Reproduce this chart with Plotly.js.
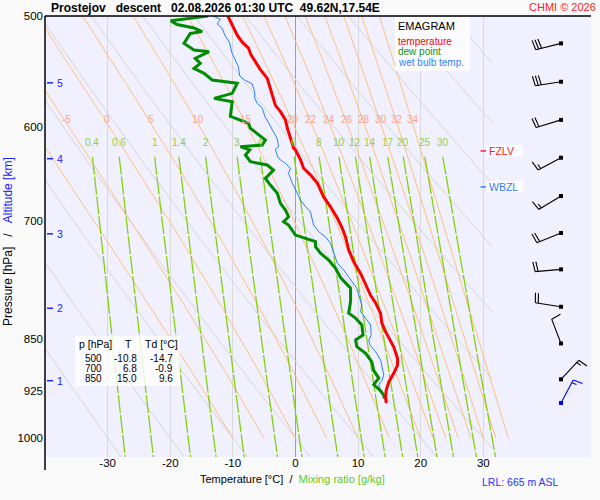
<!DOCTYPE html>
<html><head><meta charset="utf-8">
<script src="https://cdn.plot.ly/plotly-3.0.1.min.js"></script>
<style>html,body{margin:0;padding:0;background:#fafafa;}#chart{width:600px;height:500px;}</style>
</head><body><div id="chart"></div>
<script>
// ---------------- data ----------------
const tempPres = [500,507,516,522,527,533,539,546,554,562,569,579,585,593,601,610,621,623,633,642,649,658,673,684,697,709,719,734,750,763,771,780,791,801,815,828,840,851,861,877,887,899,912,924,934,944];
const tempC    = [-10.8,-10.1,-9.3,-8.5,-7.5,-7.1,-6.4,-5.6,-4.5,-4.1,-3.7,-3.2,-2.4,-1.6,-1.3,-0.9,-0.3,0.0,0.8,1.3,2.4,3.5,4.5,5.6,6.7,7.5,8.0,8.5,9.4,10.4,10.9,11.4,12.0,12.8,13.6,13.8,14.4,15.1,15.7,16.3,16.3,15.7,14.9,14.5,14.4,14.5];

const dewPres = [500,504,507,510,513,514.5,523,528.7,530.2,536,540.4,544.9,549.4,555.4,558.4,567.7,572.4,575.6,589.6,593.1,596.3,601.2,612.9,618,619.7,623,628.2,635.2,638.6,643.9,652.8,660,669,680.1,687.6,695.2,700.9,704.8,716.5,720.3,724.3,730.2,738.2,746.4,756.7,768.2,781.8,799.2,814.5,821.2,830.4,844.4,851.3,860.7,870,882.2,895.1,906.1,915.9,925.2,932,937];
const dewC    = [-14.0,-19.9,-18.9,-16.2,-14.9,-16.8,-17.8,-16.2,-13.8,-16.0,-15.2,-16.2,-14.6,-13.3,-9.3,-10.1,-13.0,-10.1,-10.4,-8.8,-7.5,-7.2,-4.8,-5.3,-8.8,-7.3,-8.0,-7.2,-4.5,-3.5,-4.8,-4.0,-2.9,-2.4,-1.6,-1.1,-1.9,-1.1,0.0,1.6,3.2,3.2,4.0,5.3,6.4,7.2,8.8,8.8,8.5,9.6,10.6,10.8,9.6,9.8,11.2,12.2,12.5,13.3,12.5,13.6,14.1,14.2];

const wetPres = [500,502.7,506.6,510.2,515.8,522.7,530.4,537.5,543.7,551.8,555.4,559.1,566.5,572.2,577.3,581.5,589.3,597,603,611.9,619.7,622.1,629.3,633.4,636.9,642,647.4,658,669,676.4,683.9,689.5,699,704.8,712.5,718.6,726.3,738.2,750.4,758.8,767.2,775.5,781.8,790.5,803.6,812.4,821.2,830.4,844.4,851.3,858.3,867.7,879.8,889.2,901.3,909.6,915.9,924.4,932,940];
const wetC    = [-13.2,-12.0,-12.5,-11.7,-11.3,-10.5,-10.2,-9.6,-9.1,-8.9,-8.1,-6.9,-6.5,-6.5,-6.1,-5.3,-4.9,-4.2,-3.7,-2.9,-2.7,-3.2,-2.9,-2.4,-1.6,-0.8,-1.1,-0.5,0.3,0.8,1.6,2.4,2.7,2.9,3.7,4.8,5.6,6.1,6.7,7.7,8.5,9.3,9.8,10.1,10.6,10.4,11.2,12.0,12.1,11.7,11.9,12.8,13.6,13.8,14.1,13.8,13.3,13.6,14.1,14.3];

// winds (direction from, degrees; speed in barb units)
const windPres = [523,557,593,631,672,714,758,806,856,908];
const windDir  = [256,261,253,242,239,248,265,279,339,43];
const windSpd  = [30,30,20,15,15,20,20,20,10,15];
const sfcPres = [944];
const sfcDir  = [28];
const sfcSpd  = [15];

// reference line families
const dryThetaC = [-30,-20,-10,0,10,20,30,40,50,60,70,80,90];
const wetThetaC = [-10,-5,0,5,10,15,20,22,24,26,28,30,32,34];
const wetLabels = [-5,0,5,10,15,20,22,24,26,28,30,32,34];
const mixRatios = [0.4,0.6,1,1.4,2,3,4,6,8,10,12,14,17,20,25,30];
const mixLabels = ['0.4','0.6','1','1.4','2','3','4','6','8','10','12','14','17','20','25','30'];

// axes
const pTicks = [500,600,700,850,925,1000];
const tTicks = [-30,-20,-10,0,10,20,30];
const isobars = [600,700,850,925,1000];
const altKm  = [1,2,3,4,5];
const altPres = [910,808,715,632,558];

// table
const tableP  = ['500','700','850'];
const tableT  = ['-10.8','6.8','15.0'];
const tableTd = ['-14.7','-0.9','9.6'];

const fzlvPres = 624;
const wbzlPres = 662;

// ---------------- layout geometry ----------------
const FONT = '"Liberation Sans", Arial, Helvetica, sans-serif';
const PX_L = 45, PX_T = 16, PLOT_W = 546, PLOT_H = 441;
const X_RANGE = [-40, 47.2];
const P_TOP = 500, P_BOT = 1031.5;
const pxPerC = PLOT_W / (X_RANGE[1] - X_RANGE[0]);
const pxPerLn = PLOT_H / Math.log(P_BOT / P_TOP);
const px2T = px => X_RANGE[0] + (px - PX_L) / pxPerC;
const paperX = px => (px - PX_L) / PLOT_W;
const paperY = py => (PX_T + PLOT_H - py) / PLOT_H;
const lg = Math.log10;
const shiftP = (p, dyPx) => p * Math.exp(dyPx / pxPerLn);

// ---------------- thermodynamics ----------------
const Rd = 287.04, cp = 1005.7, Lv = 2.501e6, EPS = 0.622, KAPPA = Rd / cp;
const esat = Tc => 6.112 * Math.exp(17.67 * Tc / (Tc + 243.5));
const dewFromE = e => { const l = Math.log(e / 6.112); return 243.5 * l / (17.67 - l); };

const traces = [];
const bg = (xs, ys, line, extra) => traces.push(Object.assign({x: xs, y: ys, mode: 'lines', line: line, hoverinfo: 'skip', showlegend: false}, extra || {}));

// dry adiabats
(function () {
  const xs = [], ys = [];
  const TCLIP = 31.5;
  dryThetaC.forEach(th => {
    const K = th + 273.15;
    const pClip = 1000 * Math.pow((TCLIP + 273.15) / K, 1 / KAPPA);
    const pEnd = Math.min(P_BOT, pClip);
    if (pEnd <= P_TOP) return;
    for (let p = P_TOP; p < pEnd; p += 5) { xs.push(K * Math.pow(p / 1000, KAPPA) - 273.15); ys.push(p); }
    xs.push(K * Math.pow(pEnd / 1000, KAPPA) - 273.15); ys.push(pEnd);
    xs.push(null); ys.push(null);
  });
  bg(xs, ys, {color: '#d6d6d6', width: 1});
})();

// pseudo-adiabats
const wetLabelPos = {};
(function () {
  const xs = [], ys = [];
  const f = (p, T) => {
    const Tc = T - 273.15, es = esat(Tc), r = EPS * es / (p - es);
    return (Rd * T + Lv * r) / (p * (cp + Lv * Lv * r * EPS / (Rd * T * T)));
  };
  wetThetaC.forEach(tw => {
    let T = tw + 273.15, p = 1000;
    const dp = -2;
    xs.push(tw); ys.push(p);
    while (p > P_TOP + 0.01) {
      const k1 = f(p, T), k2 = f(p + dp / 2, T + dp / 2 * k1), k3 = f(p + dp / 2, T + dp / 2 * k2), k4 = f(p + dp, T + dp * k3);
      T += dp / 6 * (k1 + 2 * k2 + 2 * k3 + k4); p += dp;
      xs.push(T - 273.15); ys.push(p);
      if (Math.abs(p - 596) < 0.5) wetLabelPos[tw] = T - 273.15;
    }
    xs.push(null); ys.push(null);
  });
  bg(xs, ys, {color: '#ffc080', width: 1});
})();

// mixing ratio lines
const mixLabelPos = [];
(function () {
  const xs = [], ys = [];
  const pStart = 630;
  mixRatios.forEach(w => {
    for (let p = pStart; p <= P_BOT + 0.1; p += 10) { xs.push(dewFromE(w * p / (622 + w))); ys.push(p); }
    const pb = P_BOT; xs.push(dewFromE(w * pb / (622 + w))); ys.push(pb);
    xs.push(null); ys.push(null);
    mixLabelPos.push(dewFromE(w * pStart / (622 + w)));
  });
  bg(xs, ys, {color: '#84d00c', width: 1.3, dash: '18px,2px'});
})();

// profiles
traces.push({x: wetC, y: wetPres, mode: 'lines', line: {color: '#2a7dff', width: 1}, hoverinfo: 'skip', showlegend: false});
traces.push({x: dewC, y: dewPres, mode: 'lines', line: {color: '#008c00', width: 3}, hoverinfo: 'skip', showlegend: false});
traces.push({x: tempC, y: tempPres, mode: 'lines', line: {color: '#ff0000', width: 3}, hoverinfo: 'skip', showlegend: false});

// altitude ticks (drawn as traces)
(function () {
  const xs = [], ys = [];
  altPres.forEach(p => { xs.push(px2T(47), px2T(53), null); ys.push(p, p, null); });
  bg(xs, ys, {color: '#2020ff', width: 1.5});
})();

// FZLV / WBZL boxes and ticks
[[fzlvPres, '#ff2020'], [wbzlPres, '#3080ff']].forEach(([p, c]) => {
  const x0 = px2T(487), x1 = px2T(523), yTop = shiftP(p, -6), yBot = shiftP(p, 5.5);
  bg([x0, x1, x1, x0, x0], [yTop, yTop, yBot, yBot, yTop], {color: 'rgba(255,255,255,0)', width: 0}, {fill: 'toself', fillcolor: 'rgba(255,255,255,0.85)'});
  bg([px2T(480.5), px2T(486)], [p, p], {color: c, width: 1.5});
});

// wind barbs
const BARB_X = px2T(561);
function barbs(pres, dirs, spds, color) {
  const xs = [], ys = [];
  const toData = (dx, dy, p0) => [BARB_X + dx / pxPerC, shiftP(p0, dy)];
  const seg = (a, b, p0) => {
    const A = toData(a[0], a[1], p0), B = toData(b[0], b[1], p0);
    xs.push(A[0], B[0], null); ys.push(A[1], B[1], null);
  };
  pres.forEach((p0, i) => {
    const d = dirs[i] * Math.PI / 180;
    const sx = Math.sin(d), sy = -Math.cos(d);
    const STAFF = 26;
    seg([0, 0], [sx * STAFF, sy * STAFF], p0);
    const ba = (dirs[i] + 82) * Math.PI / 180;
    const bx = Math.sin(ba), by = -Math.cos(ba);
    const n10 = Math.floor(spds[i] / 10), n5 = (spds[i] % 10) >= 5 ? 1 : 0;
    let pos = STAFF;
    for (let k = 0; k < n10; k++) {
      const px = sx * pos, py = sy * pos;
      seg([px, py], [px + bx * 10, py + by * 10], p0);
      pos -= 3;
    }
    if (n5) {
      if (n10 === 0) pos -= 3;
      const px = sx * pos, py = sy * pos;
      seg([px, py], [px + bx * 5, py + by * 5], p0);
    }
  });
  traces.push({x: xs, y: ys, mode: 'lines', line: {color: color, width: 1.1}, hoverinfo: 'skip', showlegend: false});
  traces.push({x: pres.map(() => BARB_X), y: pres, mode: 'markers', marker: {symbol: 'square', size: 4, color: color}, hoverinfo: 'skip', showlegend: false});
}
barbs(windPres, windDir, windSpd, '#000000');
barbs(sfcPres, sfcDir, sfcSpd, '#0000ff');

// ---------------- shapes ----------------
const shapes = [];
isobars.forEach(p => shapes.push({type: 'line', xref: 'x', yref: 'y', x0: -40, x1: p <= 700 ? 32.1 : 40, y0: lg(p), y1: lg(p), line: {color: '#a6a6a6', width: 1.3}, layer: 'below'}));
shapes.push({type: 'line', xref: 'paper', yref: 'paper', x0: 0, x1: 0, y0: paperY(470), y1: 1, line: {color: '#000', width: 1.5}});
shapes.push({type: 'line', xref: 'paper', yref: 'paper', x0: 0, x1: 1, y0: 1, y1: 1, line: {color: '#000', width: 1.5}});
shapes.push({type: 'rect', xref: 'paper', yref: 'paper', x0: paperX(395), x1: paperX(470), y0: paperY(71), y1: paperY(17), fillcolor: 'rgba(255,255,255,0.8)', line: {width: 0}});
shapes.push({type: 'rect', xref: 'paper', yref: 'paper', x0: paperX(75), x1: paperX(180), y0: paperY(386), y1: paperY(336), fillcolor: 'rgba(255,255,255,0.8)', line: {width: 0}});

// ---------------- annotations ----------------
const ann = [];
const txt = (x, y, text, o) => ann.push(Object.assign({x: x, y: y, text: text, showarrow: false, xref: 'paper', yref: 'paper', xanchor: 'center', yanchor: 'middle', borderpad: 0, font: {family: FONT, size: 11, color: '#000'}}, o || {}));
const S = '\u00a0';
txt(paperX(50), paperY(8), '<b>Prostejov' + S + S + S + 'descent' + S + S + S + '02.08.2026 01:30 UTC' + S + S + '49.62N,17.54E</b>', {xanchor: 'left', font: {family: FONT, size: 12, color: '#000'}});
txt(paperX(597), paperY(7.5), 'CHMI © 2026', {xanchor: 'right', font: {family: FONT, size: 11, color: '#ff2020'}});
// legend
txt(paperX(397), paperY(26), 'EMAGRAM', {xanchor: 'left', font: {family: FONT, size: 11, color: '#000'}});
txt(paperX(397), paperY(41.5), 'temperature', {xanchor: 'left', font: {family: FONT, size: 10, color: '#ff0000'}});
txt(paperX(397), paperY(52), 'dew point', {xanchor: 'left', font: {family: FONT, size: 10, color: '#109010'}});
txt(paperX(397), paperY(62), 'wet bulb temp.', {xanchor: 'left', font: {family: FONT, size: 10, color: '#3080ff'}});
// table
const tf = {family: FONT, size: 10, color: '#000'};
const th = {family: FONT, size: 10.5, color: '#000'};
txt(paperX(78), paperY(344), 'p [hPa]', {xanchor: 'left', font: th});
txt(paperX(128), paperY(344), 'T', {font: th});
txt(paperX(144), paperY(344), 'Td [°C]', {xanchor: 'left', font: th});
tableP.forEach((v, i) => {
  const y = paperY(358.3 + 10 * i);
  txt(paperX(102.5), y, v, {xanchor: 'right', font: tf});
  txt(paperX(137.5), y, tableT[i], {xanchor: 'right', font: tf});
  txt(paperX(173.5), y, tableTd[i], {xanchor: 'right', font: tf});
});
// moist adiabat labels
wetLabels.forEach(v => txt(wetLabelPos[v], lg(593), String(v), {xref: 'x', yref: 'y', font: {family: FONT, size: 10, color: '#ffa48c'}}));
// mixing ratio labels
mixLabels.forEach((s, i) => txt(mixLabelPos[i], lg(615.9), s, {xref: 'x', yref: 'y', font: {family: FONT, size: 10, color: '#90d040'}}));
// altitude labels
altKm.forEach((k, i) => txt(paperX(60), lg(altPres[i]), String(k), {yref: 'y', font: {family: FONT, size: 10.5, color: '#2020ff'}}));
// FZLV / WBZL text
txt(px2T(487.5), lg(fzlvPres), 'FZLV', {xref: 'x', xanchor: 'left', yref: 'y', font: {family: FONT, size: 10.5, color: '#ff2020'}});
txt(px2T(487.5), lg(wbzlPres), 'WBZL', {xref: 'x', xanchor: 'left', yref: 'y', font: {family: FONT, size: 10.5, color: '#3080ff'}});
// axis titles
txt(paperX(292), paperY(479), 'Temperature [°C]' + S + S + '/' + S + S + '<span style="color:#5ccc20">Mixing ratio [g/kg]</span>', {font: {family: FONT, size: 11, color: '#000'}});
txt(paperX(8), paperY(242), 'Pressure [hPa]' + S + S + S + '/' + S + S + S + '<span style="color:#2020ff">Altitude [km]</span>', {textangle: -90, font: {family: FONT, size: 12, color: '#000'}});
txt(paperX(520), paperY(481.5), 'LRL: 665 m ASL', {font: {family: FONT, size: 10.5, color: '#3030ff'}});

const layout = {
  width: 600, height: 500,
  margin: {l: PX_L, r: 600 - PX_L - PLOT_W, t: PX_T, b: 500 - PX_T - PLOT_H, pad: 0},
  paper_bgcolor: '#fafafa', plot_bgcolor: '#f0f0fe',
  showlegend: false, hovermode: false,
  xaxis: {range: X_RANGE, tickvals: tTicks, ticktext: tTicks.map(String), showgrid: true, gridcolor: '#d9d9d9', gridwidth: 1,
          zeroline: true, zerolinecolor: '#a0a0a0', zerolinewidth: 1.3, showline: false, ticks: '', ticklabelstandoff: -3,
          tickfont: {family: FONT, size: 11.5, color: '#000'}, fixedrange: true},
  yaxis: {type: 'log', range: [lg(P_BOT), lg(P_TOP)], tickvals: pTicks, ticktext: pTicks.map(String), showgrid: false, zeroline: false,
          showline: false, ticks: '', ticklabelstandoff: 1, tickfont: {family: FONT, size: 11.5, color: '#000'}, fixedrange: true},
  shapes: shapes, annotations: ann
};
Plotly.newPlot('chart', traces, layout, {staticPlot: true, displayModeBar: false});
</script></body></html>
